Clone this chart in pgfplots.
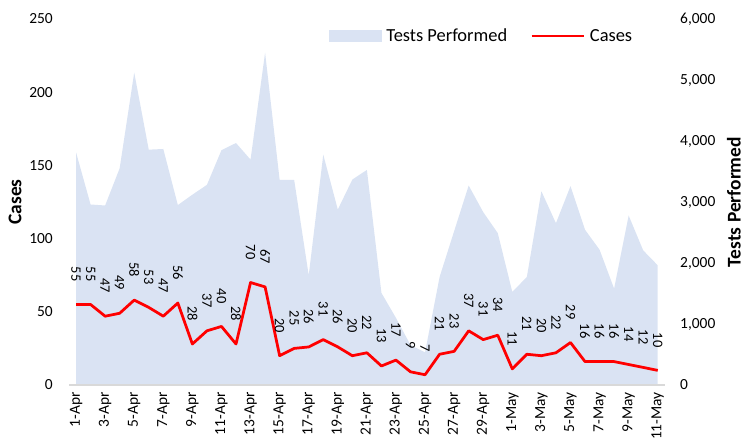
\documentclass[border=0pt]{standalone}
\usepackage{fontspec}
\setmainfont{Carlito}
\usepackage{pgfplots}
\usepackage{pgfplotstable}
\pgfplotsset{compat=1.18}
\definecolor{areafill}{HTML}{DAE3F3}
\definecolor{axisgray}{HTML}{D9D9D9}
\pgfplotstableread{
x tests cases
0 3814 55
1 2959 55
2 2943 47
3 3553 49
4 5122 58
5 3858 53
6 3869 47
7 2950 56
8 3120 28
9 3281 37
10 3850 40
11 3967 28
12 3695 70
13 5449 67
14 3362 20
15 3362 25
16 1798 26
17 3776 31
18 2877 26
19 3368 20
20 3526 22
21 1509 13
22 1100 17
23 654 9
24 535 7
25 1771 21
26 2522 23
27 3270 37
28 2834 31
29 2490 34
30 1526 11
31 1771 21
32 3176 20
33 2653 22
34 3259 29
35 2545 16
36 2218 16
37 1580 16
38 2779 14
39 2207 12
40 1962 10
}\datatable
\begin{document}
\begin{tikzpicture}
\pgfplotsset{
  common/.style={
    scale only axis, width=595.5bp, height=366bp,
    at={(0,0)}, anchor=south west,
    xmin=-0.45, xmax=40.5,
    /pgf/number format/assume math mode=true,
    major tick length=0pt,
    tick label style={font=\fontsize{15.5}{18}\selectfont, inner sep=0pt, black},
  }
}
\begin{axis}[common,
  axis x line=none,
  axis y line*=right,
  y axis line style={draw=none},
  ymin=0, ymax=6000,
  ytick={0,1000,...,6000},
  /pgf/number format/1000 sep={,},
  yticklabel style={anchor=west},
  yticklabel shift=15bp,
  every axis y label/.style={at={(axis description cs:1.1155,0.5)}, rotate=90, anchor=center, inner sep=0pt, font=\fontsize{19.5}{21}\selectfont\bfseries},
  ylabel={Tests Performed},
]
\addplot[fill=areafill, draw=none] table[x=x, y=tests] {\datatable} \closedcycle;
\end{axis}
\begin{axis}[common,
  axis x line*=bottom,
  axis y line*=left,
  y axis line style={draw=none},
  x axis line style={draw=axisgray, line width=2bp},
  ymin=0, ymax=250,
  ytick={0,50,...,250},
  yticklabel style={anchor=east},
  yticklabel shift=16.5bp,
  xtick={0,2,...,40},
  xticklabels={1-Apr,3-Apr,5-Apr,7-Apr,9-Apr,11-Apr,13-Apr,15-Apr,17-Apr,19-Apr,21-Apr,23-Apr,25-Apr,27-Apr,29-Apr,1-May,3-May,5-May,7-May,9-May,11-May},
  xticklabel style={rotate=90, anchor=east},
  xticklabel shift=7bp,
  every axis y label/.style={at={(axis description cs:-0.0915,0.5)}, rotate=90, anchor=center, inner sep=0pt, font=\fontsize{19.5}{21}\selectfont\bfseries},
  ylabel={Cases},
  legend style={draw=none, fill=none, inner sep=0pt, outer sep=0pt,
    at={(axis description cs:0.4358,0.9536)}, anchor=west,
    font=\fontsize{18.5}{20}\selectfont,
    legend columns=-1,
    nodes={inner sep=0pt},
    /tikz/every odd column/.style={column sep=5bp},
    /tikz/every even column/.append style={column sep=23bp}},
]
\addlegendimage{legend image code/.code={\fill[areafill] (0bp,-5.5bp) rectangle (52bp,5.5bp);}}
\addlegendentry{Tests Performed}
\addplot[red, line width=2.75bp, line join=round,
  nodes near coords,
  nodes near coords style={font=\fontsize{14.5}{16}\selectfont, black, rotate=-90, anchor=east, inner xsep=0pt, inner ysep=0pt, outer xsep=23bp},
  legend image code/.code={\draw[red, line width=2.75bp] (0bp,0bp) -- (52bp,0bp);}]
  table[x=x, y=cases] {\datatable};
\addlegendentry{Cases}
\end{axis}
\pgfresetboundingbox
\useasboundingbox (-69.5bp,-60bp) rectangle (676.5bp,385bp);
\end{tikzpicture}
\end{document}
